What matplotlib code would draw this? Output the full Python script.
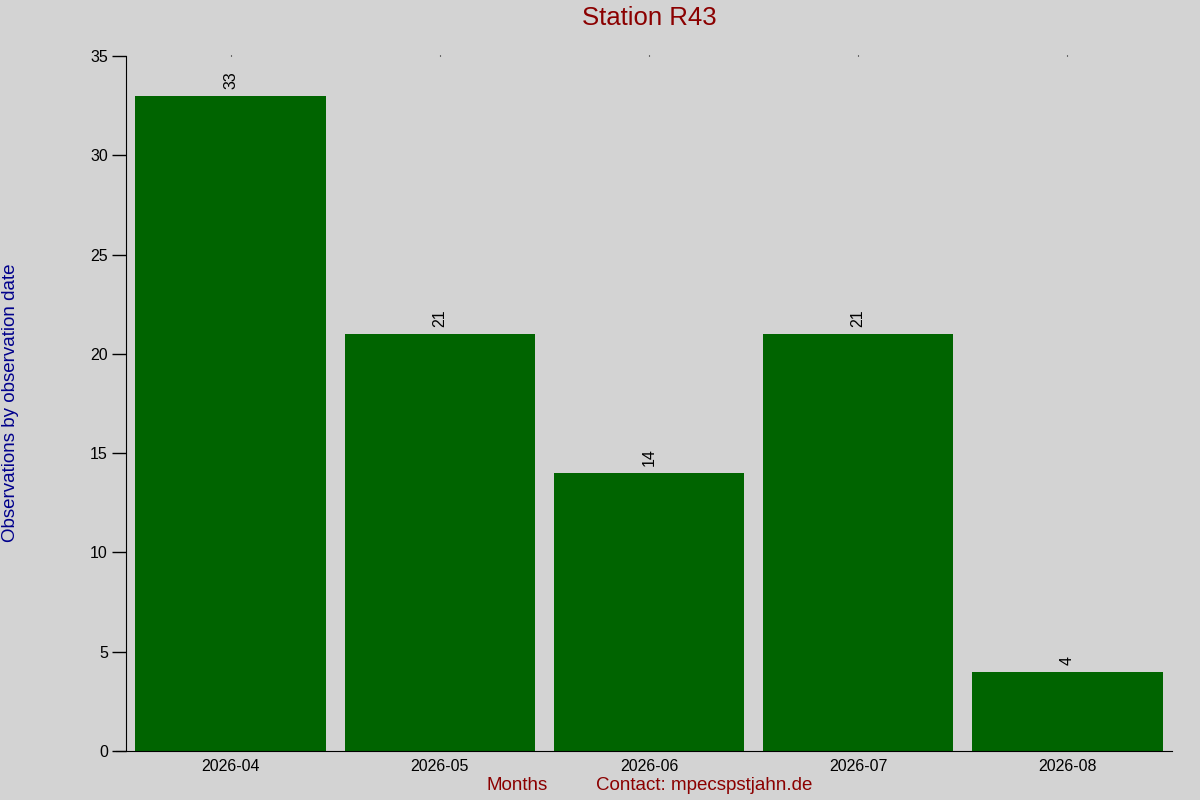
import matplotlib
matplotlib.use('Agg')
import matplotlib.pyplot as plt

plt.rcParams['font.family'] = ['Liberation Sans', 'DejaVu Sans']

months = ['2026-04', '2026-05', '2026-06', '2026-07', '2026-08']
counts = [33, 21, 14, 21, 4]

bg = '#d3d3d3'
fig = plt.figure(figsize=(12, 8), dpi=100, facecolor=bg)
ax = fig.add_axes([126 / 1200, 1 - 751 / 800, (1172 - 126) / 1200, (751 - 56) / 800])
ax.set_facecolor(bg)

x = range(len(months))
bars = ax.bar(x, counts, width=0.91, color='#006400')
for xi, v in zip(x, counts):
    ax.annotate(str(v), (xi, v), xytext=(0, 5), textcoords='offset points',
                ha='center', va='bottom', rotation=90, fontsize=11.5)

ax.set_xlim(-0.5, len(months) - 0.5)
ax.set_ylim(0, 35)
ax.set_yticks(range(0, 36, 5))
ax.set_xticks(list(x))
ax.set_xticklabels(months)
ax.tick_params(axis='y', direction='out', length=10, labelsize=11.5, width=1, pad=3)
ax.tick_params(axis='x', labelsize=11.5, pad=5, top=True, bottom=False, length=1)

for s in ['top', 'right']:
    ax.spines[s].set_visible(False)
ax.spines['left'].set_color('black')
ax.spines['bottom'].set_bounds(-0.5 - 10 / 209, len(months) - 0.5)

fig.text(649 / 1200, 1 - 18 / 800, 'Station R43', ha='center', va='center',
         fontsize=18.5, color='#8b0000')
fig.text(11 / 1200, 1 - 403 / 800, 'Observations by observation date', rotation=90,
         ha='center', va='center', fontsize=13.5, color='#00008b')
fig.text(517 / 1200, 1 - 786 / 800, 'Months', ha='center', va='center',
         fontsize=13.5, color='#8b0000')
fig.text(704 / 1200, 1 - 786 / 800, 'Contact: mpecspstjahn.de', ha='center', va='center',
         fontsize=13.5, color='#8b0000')

fig.savefig('out.png', dpi=100, facecolor=bg)
